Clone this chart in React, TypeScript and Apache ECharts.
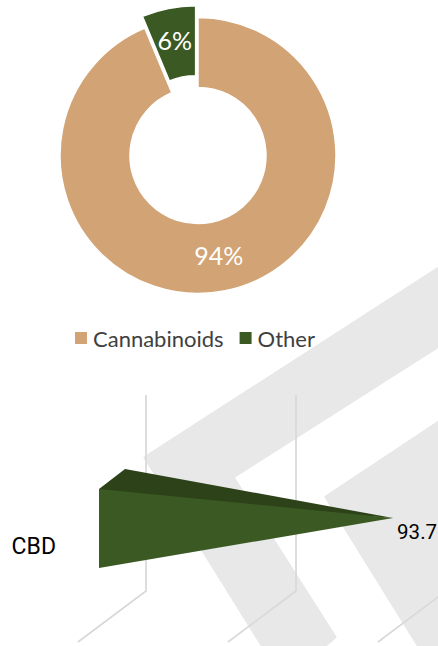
import React, { useEffect, useRef } from "react";
import * as echarts from "echarts";

const pieNames = ["Cannabinoids", "Other"];
const pieValues = [93.7, 6.3];
const pieColors = ["#D2A374", "#3B5A23"];
const barCategories = ["CBD"];
const barValues = [93.7];
const axisTicks = [0, 50, 100];
const W = 438;
const H = 646;

const renderGrid = (_: any, api: any) => {
  const [x, yc] = api.coord([api.value(0), 0]);
  return {
    type: "polyline",
    silent: true,
    shape: { points: [[x + 34, yc - 151], [x + 34, yc + 45], [x - 34, yc + 96]] },
    style: { fill: "none", stroke: "#D9D9D9", lineWidth: 1.75 },
  };
};

const renderCone = (_: any, api: any) => {
  const value = api.value(0);
  const [tipX, yc] = api.coord([value, 0]);
  const [baseX] = api.coord([0, 0]);
  const front = baseX - 13;
  const back = baseX + 13;
  return {
    type: "group",
    children: [
      {
        type: "polygon",
        shape: { points: [[front, yc - 57], [back, yc - 77], [tipX, yc - 28], [front, yc - 50]] },
        style: { fill: "#2D4219" },
      },
      {
        type: "polygon",
        shape: { points: [[front, yc - 57], [tipX, yc - 28], [front, yc + 22]] },
        style: { fill: "#3B5A23" },
      },
      {
        type: "text",
        x: tipX + 4,
        y: yc - 14,
        style: {
          text: String(value),
          fill: "#000000",
          fontSize: 20.5,
          fontFamily: "Roboto",
          textAlign: "left",
          textVerticalAlign: "middle",
        },
      },
    ],
  };
};

export default function App() {
  const ref = useRef<HTMLDivElement>(null);
  useEffect(() => {
    const chart = echarts.init(ref.current!, undefined, { renderer: "svg" });
    chart.setOption({
      animation: false,
      backgroundColor: "#FFFFFF",
      graphic: [
        {
          type: "polygon",
          z: -10,
          silent: true,
          shape: { points: [[145, 457.5], [445, 264], [445, 342], [233, 477], [335, 637], [320, 650], [265, 650]] },
          style: { fill: "#E8E8E8", stroke: "#E8E8E8", lineWidth: 3, lineJoin: "round" },
        },
        {
          type: "polygon",
          z: -10,
          silent: true,
          shape: { points: [[326, 497], [445, 418], [445, 650], [421, 650]] },
          style: { fill: "#E8E8E8", stroke: "#E8E8E8", lineWidth: 3, lineJoin: "round" },
        },
      ],
      legend: {
        data: pieNames,
        left: 68,
        top: 322,
        itemWidth: 14,
        itemHeight: 14,
        itemGap: 14,
        icon: "rect",
        textStyle: { color: "#404040", fontSize: 22, fontFamily: "Lato" },
      },
      grid: { left: 112, top: 496, width: 300, height: 100 },
      xAxis: { type: "value", min: 0, max: 100, interval: 50, show: false },
      yAxis: {
        type: "category",
        data: barCategories,
        axisLine: { show: false },
        axisTick: { show: false },
        splitLine: { show: false },
        axisLabel: {
          color: "#000000",
          fontSize: 23,
          fontFamily: "Roboto",
          margin: 56,
        },
      },
      series: [
        {
          type: "custom",
          coordinateSystem: "cartesian2d",
          data: axisTicks.map((t) => [t, 0]),
          encode: { x: 0, y: 1 },
          renderItem: renderGrid,
          clip: false,
          silent: true,
          z: 1,
        },
        {
          type: "custom",
          coordinateSystem: "cartesian2d",
          data: barValues.map((v) => [v, 0]),
          encode: { x: 0, y: 1 },
          renderItem: renderCone,
          clip: false,
          z: 2,
        },
        {
          type: "pie",
          center: [198, 155.5],
          radius: [68, 138],
          startAngle: 90,
          selectedMode: "single",
          selectedOffset: 12,
          avoidLabelOverlap: false,
          itemStyle: { borderColor: "#FFFFFF", borderWidth: 1.5 },
          data: pieNames.map((name, i) => ({
            name,
            value: pieValues[i],
            selected: i === 1,
            itemStyle: { color: pieColors[i] },
            label: { offset: i === 0 ? [0, -4] : [1, 4] },
          })),
          label: {
            show: true,
            position: "inside",
            color: "#FFFFFF",
            fontSize: 25,
            fontFamily: "Lato",
            letterSpacing: 1,
            formatter: (p: any) => `${Math.round(p.value)}%`,
          },
          labelLine: { show: false },
          emphasis: { disabled: true },
          z: 5,
        },
      ],
    });
    return () => chart.dispose();
  }, []);
  return <div ref={ref} style={{ width: W, height: H, position: "fixed", left: 0, top: 0 }} />;
}
